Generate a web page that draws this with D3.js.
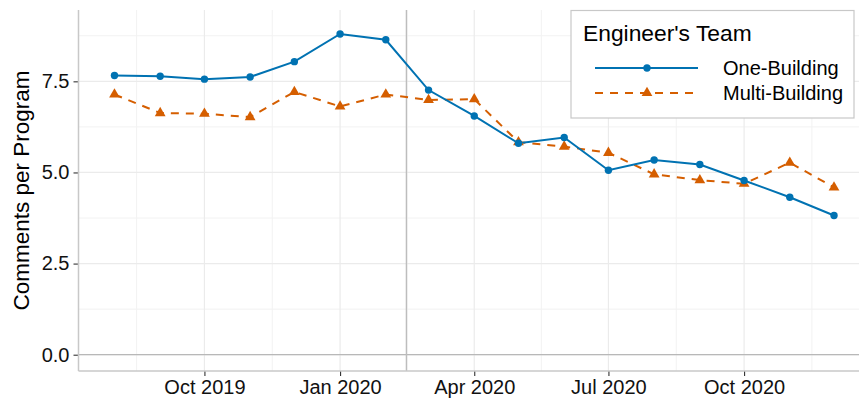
<!DOCTYPE html>
<html>
<head>
<meta charset="utf-8">
<script src="https://cdn.jsdelivr.net/npm/d3@7"></script>
<style>
  body { margin: 0; background: #fff; }
  svg { display: block; font-family: "Liberation Sans", Arial, Helvetica, sans-serif; }
</style>
</head>
<body>
<div id="chart"></div>
<script>
const width = 859;
const height = 403;

// Monthly data (first of each month)
const months = [
    "2019-08-01", "2019-09-01", "2019-10-01", "2019-11-01", "2019-12-01",
    "2020-01-01", "2020-02-01", "2020-03-01", "2020-04-01", "2020-05-01",
    "2020-06-01", "2020-07-01", "2020-08-01", "2020-09-01", "2020-10-01",
    "2020-11-01", "2020-12-01"
];
const oneBuilding = [7.66, 7.64, 7.56, 7.62, 8.04, 8.80, 8.64, 7.26, 6.55, 5.80, 5.96, 5.06, 5.34, 5.22, 4.78, 4.32, 3.82];
const multiBuilding = [7.14, 6.63, 6.61, 6.52, 7.21, 6.81, 7.14, 6.99, 7.01, 5.83, 5.71, 5.54, 4.95, 4.79, 4.69, 5.27, 4.59];
const seriesNames = ["One-Building", "Multi-Building"];
const xTicks = ["2019-10-01", "2020-01-01", "2020-04-01", "2020-07-01", "2020-10-01"];
const yTicks = [0, 2.5, 5, 7.5];
const cutoff = "2020-02-15";

const blue = "#0072B2";
const orange = "#D55E00";

const parse = d3.utcParse("%Y-%m-%d");
const dates = months.map(parse);

const margin = { top: 10, right: -11, bottom: 32, left: 78.5 };
const x0 = margin.left, x1 = width - margin.right;
const yTop = margin.top, yBottom = height - margin.bottom;

// 5% expansion on x like ggplot
const tMin = dates[0].getTime(), tMax = dates[dates.length - 1].getTime();
const pad = (tMax - tMin) * 0.05;
const x = d3.scaleUtc()
    .domain([new Date(tMin - pad), new Date(tMax + pad)])
    .range([x0, x1]);

const y = d3.scaleLinear()
    .domain([-0.447, 9.457])
    .range([yBottom, yTop]);

const svg = d3.select("#chart")
    .append("svg")
    .attr("width", width)
    .attr("height", height);

// minor grid: midpoints between major breaks
const majorAll = [parse("2019-07-01")].concat(xTicks.map(parse), [parse("2021-01-01")]);
const xMinor = [];
for (let i = 0; i < majorAll.length - 1; i++) {
    xMinor.push(new Date((majorAll[i].getTime() + majorAll[i + 1].getTime()) / 2));
}
const yMinor = [1.25, 3.75, 6.25, 8.75];

const grid = svg.append("g");
grid.selectAll(".ymin").data(yMinor).join("line")
    .attr("x1", x0).attr("x2", width)
    .attr("y1", d => y(d)).attr("y2", d => y(d))
    .attr("stroke", "#f2f2f2").attr("stroke-width", 1);
grid.selectAll(".xmin").data(xMinor.filter(d => x(d) > x0 && x(d) < width)).join("line")
    .attr("x1", d => x(d)).attr("x2", d => x(d))
    .attr("y1", yTop).attr("y2", yBottom)
    .attr("stroke", "#f2f2f2").attr("stroke-width", 1);
grid.selectAll(".ymaj").data(yTicks).join("line")
    .attr("x1", x0).attr("x2", width)
    .attr("y1", d => y(d)).attr("y2", d => y(d))
    .attr("stroke", "#ebebeb").attr("stroke-width", 1.2);
grid.selectAll(".xmaj").data(xTicks.map(parse)).join("line")
    .attr("x1", d => x(d)).attr("x2", d => x(d))
    .attr("y1", yTop).attr("y2", yBottom)
    .attr("stroke", "#ebebeb").attr("stroke-width", 1.2);

// zero line and cutoff line
svg.append("line")
    .attr("x1", x0).attr("x2", width)
    .attr("y1", y(0)).attr("y2", y(0))
    .attr("stroke", "#b8b8b8").attr("stroke-width", 1.3);
svg.append("line")
    .attr("x1", x(parse(cutoff))).attr("x2", x(parse(cutoff)))
    .attr("y1", yTop).attr("y2", yBottom)
    .attr("stroke", "#bdbdbd").attr("stroke-width", 1.4);

// axes
const xAxis = svg.append("g")
    .attr("transform", `translate(0,${yBottom})`)
    .call(d3.axisBottom(x).tickValues(xTicks.map(parse)).tickFormat(d3.utcFormat("%b %Y")).tickSize(5).tickPadding(4));
const yAxis = svg.append("g")
    .attr("transform", `translate(${x0},0)`)
    .call(d3.axisLeft(y).tickValues(yTicks).tickFormat(d3.format(".1f")).tickSize(5).tickPadding(4));

[xAxis, yAxis].forEach(ax => {
    ax.select(".domain").remove();
    ax.selectAll(".tick line").attr("stroke", "#333").attr("stroke-width", 1.1);
    ax.selectAll(".tick text").attr("fill", "#111").style("font-size", "20px");
});

// axis lines (panel border left/bottom)
svg.append("line")
    .attr("x1", x0).attr("x2", x0).attr("y1", yTop).attr("y2", yBottom)
    .attr("stroke", "#c8c8c8").attr("stroke-width", 1.5);
svg.append("line")
    .attr("x1", x0).attr("x2", width).attr("y1", yBottom).attr("y2", yBottom)
    .attr("stroke", "#c8c8c8").attr("stroke-width", 1.5);

// y title
svg.append("text")
    .attr("transform", `translate(29,${(yTop + yBottom) / 2}) rotate(-90)`)
    .attr("text-anchor", "middle")
    .style("font-size", "22.5px")
    .attr("fill", "#000")
    .text("Comments per Program");

// series
const line = d3.line()
    .x((d, i) => x(dates[i]))
    .y(d => y(d));

svg.append("path")
    .datum(multiBuilding)
    .attr("d", line)
    .attr("fill", "none")
    .attr("stroke", orange)
    .attr("stroke-width", 2)
    .attr("stroke-dasharray", "8,7");
svg.append("path")
    .datum(oneBuilding)
    .attr("d", line)
    .attr("fill", "none")
    .attr("stroke", blue)
    .attr("stroke-width", 2);

const tri = d3.symbol().type(d3.symbolTriangle).size(50);
svg.append("g").selectAll("path").data(multiBuilding).join("path")
    .attr("transform", (d, i) => `translate(${x(dates[i])},${y(d)})`)
    .attr("d", tri)
    .attr("fill", orange);
svg.append("g").selectAll("circle").data(oneBuilding).join("circle")
    .attr("cx", (d, i) => x(dates[i]))
    .attr("cy", d => y(d))
    .attr("r", 3.7)
    .attr("fill", blue);

// legend
const legend = svg.append("g");
legend.append("rect")
    .attr("x", 571).attr("y", 10.5)
    .attr("width", 283).attr("height", 107.5)
    .attr("fill", "#fff")
    .attr("stroke", "#c8c8c8").attr("stroke-width", 1.2);
legend.append("text")
    .attr("x", 583).attr("y", 41)
    .style("font-size", "22.8px")
    .attr("fill", "#000")
    .text("Engineer's Team");

const rows = [
    { name: seriesNames[0], color: blue, dash: null, shape: "circle", yy: 68 },
    { name: seriesNames[1], color: orange, dash: "8,7", shape: "triangle", yy: 93 }
];
rows.forEach(r => {
    legend.append("line")
        .attr("x1", 595).attr("x2", 698)
        .attr("y1", r.yy).attr("y2", r.yy)
        .attr("stroke", r.color).attr("stroke-width", 2)
        .attr("stroke-dasharray", r.dash);
    if (r.shape === "circle") {
        legend.append("circle").attr("cx", 647).attr("cy", r.yy).attr("r", 3.7).attr("fill", r.color);
    } else {
        legend.append("path").attr("transform", `translate(647,${r.yy})`).attr("d", tri).attr("fill", r.color);
    }
    legend.append("text")
        .attr("x", 723).attr("y", r.yy + 7)
        .style("font-size", "20px")
        .attr("fill", "#000")
        .text(r.name);
});
</script>
</body>
</html>
